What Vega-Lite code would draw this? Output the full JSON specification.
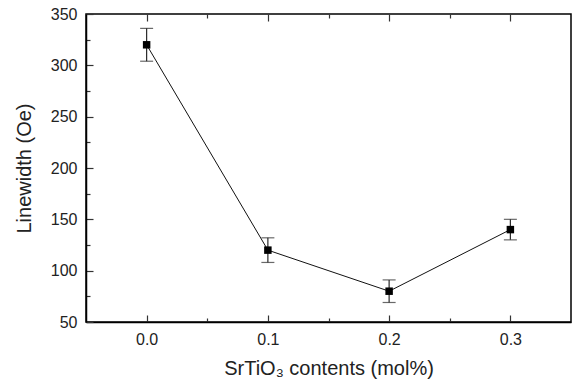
{
  "$schema": "https://vega.github.io/schema/vega-lite/v6.json",
  "width": 485,
  "height": 308,
  "autosize": {"type": "none"},
  "padding": {"left": 86, "top": 14, "right": 1, "bottom": 58},
  "background": "white",
  "config": {
    "view": {"stroke": "#000000", "strokeWidth": 1.5},
    "font": "Liberation Sans",
    "axis": {
      "labelFont": "Liberation Sans",
      "titleFont": "Liberation Sans",
      "labelFontSize": 16,
      "titleFontSize": 20,
      "titleFontWeight": "normal",
      "labelColor": "#222222",
      "titleColor": "#222222",
      "domainColor": "#000000",
      "domainWidth": 1.5,
      "tickColor": "#333333",
      "tickWidth": 1.2,
      "grid": false
    }
  },
  "data": {
    "values": [
      {"x": 0.0, "y": 320, "lo": 304, "hi": 336},
      {"x": 0.1, "y": 120, "lo": 108, "hi": 132},
      {"x": 0.2, "y": 80, "lo": 69, "hi": 91},
      {"x": 0.3, "y": 140, "lo": 130, "hi": 150}
    ]
  },
  "encoding": {
    "y": {
      "field": "y",
      "type": "quantitative",
      "scale": {"domain": [50, 350], "nice": false, "zero": false},
      "axis": {
        "title": "Linewidth (Oe)",
        "values": [50, 75, 100, 125, 150, 175, 200, 225, 250, 275, 300, 325, 350],
        "labelExpr": "datum.value % 50 == 0 ? format(datum.value, 'd') : ''",
        "tickSize": -7,
        "tickDash": {"condition": {"test": "datum.value % 50 == 0", "value": []}, "value": [4, 20]},
        "labelPadding": 16,
        "titlePadding": 16
      }
    }
  },
  "layer": [
    {
      "encoding": {
        "x": {
          "field": "x",
          "type": "quantitative",
          "scale": {"domain": [-0.05, 0.35], "nice": false, "zero": false},
          "axis": {
            "title": "SrTiO₃ contents (mol%)",
            "values": [0, 0.05, 0.1, 0.15, 0.2, 0.25, 0.3],
            "labelExpr": "round(datum.value*20) % 2 == 0 ? format(datum.value, '.1f') : ''",
            "tickSize": -7,
            "tickDash": {"condition": {"test": "round(datum.value*20) % 2 == 0", "value": []}, "value": [4, 20]},
            "labelPadding": 16,
            "titlePadding": 11
          }
        }
      },
      "layer": [
        {
          "mark": {"type": "rule", "color": "#2a2a2a", "strokeWidth": 1.2},
          "encoding": {"y": {"field": "lo", "type": "quantitative"}, "y2": {"field": "hi"}}
        },
        {
          "mark": {"type": "tick", "orient": "horizontal", "color": "#2a2a2a", "size": 13, "thickness": 1.2},
          "encoding": {"y": {"field": "lo", "type": "quantitative"}}
        },
        {
          "mark": {"type": "tick", "orient": "horizontal", "color": "#2a2a2a", "size": 13, "thickness": 1.2},
          "encoding": {"y": {"field": "hi", "type": "quantitative"}}
        },
        {
          "mark": {"type": "line", "color": "#111111", "strokeWidth": 1},
          "encoding": {}
        },
        {
          "mark": {"type": "square", "color": "#000000", "opacity": 1, "size": 56},
          "encoding": {}
        }
      ]
    },
    {
      "mark": {"type": "point", "opacity": 0},
      "encoding": {
        "x": {
          "field": "x",
          "type": "quantitative",
          "scale": {"domain": [-0.05, 0.35], "nice": false, "zero": false},
          "axis": {
            "orient": "top",
            "title": null,
            "labels": false,
            "domain": false,
            "values": [0, 0.05, 0.1, 0.15, 0.2, 0.25, 0.3],
            "tickSize": -7,
            "tickDash": {"condition": {"test": "round(datum.value*20) % 2 == 0", "value": []}, "value": [4, 20]}
          }
        }
      }
    }
  ],
  "resolve": {"axis": {"x": "independent"}}
}
